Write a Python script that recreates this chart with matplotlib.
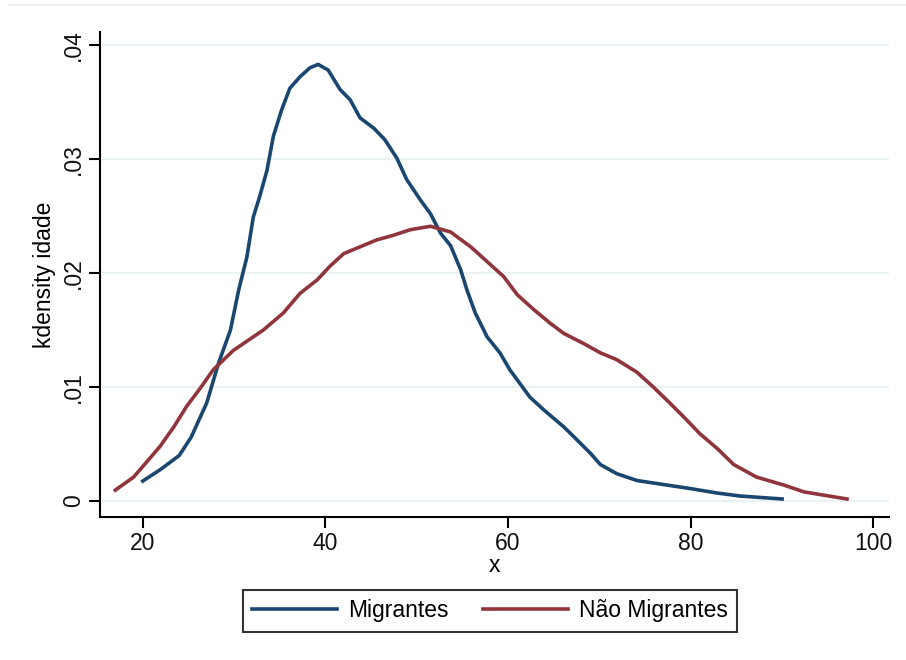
import matplotlib
matplotlib.use("Agg")
import matplotlib.pyplot as plt
from matplotlib.lines import Line2D

plt.rcParams['font.family'] = ['Liberation Sans', 'DejaVu Sans']

# Migrantes (blue)
mig_x = [20.0, 22.0, 24.0, 25.3, 27.0, 28.3, 29.6, 30.5, 31.4, 32.1, 32.8, 33.6, 34.3, 35.2,
         36.1, 37.2, 38.3, 39.2, 40.3, 41.6, 42.7, 43.8, 45.3, 46.5, 47.8, 48.9, 50.4,
         51.5, 52.6, 53.7, 54.8, 55.5, 56.4, 57.7, 59.1, 60.2, 61.3, 62.4, 63.9, 66.1,
         67.5, 69.0, 70.1, 71.9, 74.1, 77.4, 79.9, 82.9, 85.4, 90.0]
mig_y = [0.00175, 0.0028, 0.0040, 0.0056, 0.0086, 0.0121, 0.0150, 0.0185, 0.0214, 0.0249,
         0.0267, 0.0290, 0.0320, 0.0343, 0.0362, 0.0372, 0.0380, 0.0383, 0.0378, 0.0361,
         0.0352, 0.0336, 0.0327, 0.0317, 0.0301, 0.0282, 0.0264, 0.0252, 0.0235, 0.0224,
         0.0203, 0.0185, 0.0165, 0.0144, 0.0130, 0.0115, 0.0103, 0.0091, 0.0080, 0.0065,
         0.0054, 0.0042, 0.0032, 0.0024, 0.0018, 0.0014, 0.0011, 0.0007, 0.00044, 0.00018]

# Não Migrantes (red)
nao_x = [17.0, 19.0, 20.4, 21.9, 23.4, 24.8, 26.3, 27.7, 29.9, 32.1, 33.2, 35.4, 37.2,
         39.1, 40.5, 42.0, 43.8, 45.6, 47.4, 49.3, 51.5, 53.7, 55.9, 57.7, 59.5, 61.0,
         62.8, 64.6, 66.1, 68.3, 70.1, 71.9, 74.1, 75.9, 77.7, 79.2, 81.0, 82.9, 84.7,
         87.2, 90.2, 92.4, 94.9, 97.1]
nao_y = [0.00096, 0.0021, 0.0034, 0.0048, 0.0065, 0.0083, 0.0099, 0.0115, 0.0132, 0.0144,
         0.0150, 0.0165, 0.0182, 0.0194, 0.0206, 0.0217, 0.0223, 0.0229, 0.0233, 0.0238,
         0.0241, 0.0236, 0.0223, 0.0210, 0.0197, 0.0181, 0.0168, 0.0156, 0.0147, 0.0138,
         0.0130, 0.0124, 0.0113, 0.0100, 0.0086, 0.0074, 0.0059, 0.0046, 0.0032, 0.0021,
         0.0014, 0.0008, 0.00047, 0.00018]

x_ticks = [20, 40, 60, 80, 100]
y_ticks = [0, 0.01, 0.02, 0.03, 0.04]
y_tick_labels = ["0", ".01", ".02", ".03", ".04"]
series_labels = ["Migrantes", "Não Migrantes"]

BLUE = "#1a476f"
RED = "#90353b"
GRID = "#eaf2f3"
FS = 16.5

fig = plt.figure(figsize=(9.06, 6.6), dpi=100)
fig.patch.set_facecolor("white")
# faint outer border line at top
fig.add_artist(Line2D([10/906, 1.0], [1 - 5/660, 1 - 5/660], color="#eef2f5",
                      linewidth=1.5, transform=fig.transFigure))

ax = fig.add_axes([100/906, 1 - 517/660, 789/906, 485/660])
ax.plot(mig_x, mig_y, color=BLUE, linewidth=2.6, label=series_labels[0])
ax.plot(nao_x, nao_y, color=RED, linewidth=2.6, label=series_labels[1])

ax.set_xlim(15.32, 101.7)
ax.set_ylim(-0.0014, 0.04114)
ax.set_xticks(x_ticks)
ax.set_xticklabels([str(t) for t in x_ticks], fontsize=FS)
ax.set_yticks(y_ticks)
ax.set_yticklabels(y_tick_labels, fontsize=FS, rotation=90, va="center")
ax.grid(axis="y", color=GRID, linewidth=1.5)
ax.set_axisbelow(True)
for s in ["top", "right"]:
    ax.spines[s].set_visible(False)
for s in ["left", "bottom"]:
    ax.spines[s].set_linewidth(1.5)
    ax.spines[s].set_color("black")
ax.tick_params(axis="both", length=8, width=1.5, colors="black", labelcolor="#111111")
ax.tick_params(axis="x", pad=3)
ax.tick_params(axis="y", pad=3)

ax.set_xlabel("x", fontsize=FS, labelpad=-1)
ax.set_ylabel("kdensity idade", fontsize=FS, labelpad=4)

leg = fig.legend(loc="center", bbox_to_anchor=(490/906, 1 - 611/660), ncol=2,
                 fontsize=FS, frameon=True, fancybox=False, edgecolor="black",
                 handlelength=3.7, handletextpad=0.5, columnspacing=1.5,
                 borderpad=0.4)
leg.get_frame().set_linewidth(1.5)

fig.savefig("out.png", dpi=100, facecolor="white")
